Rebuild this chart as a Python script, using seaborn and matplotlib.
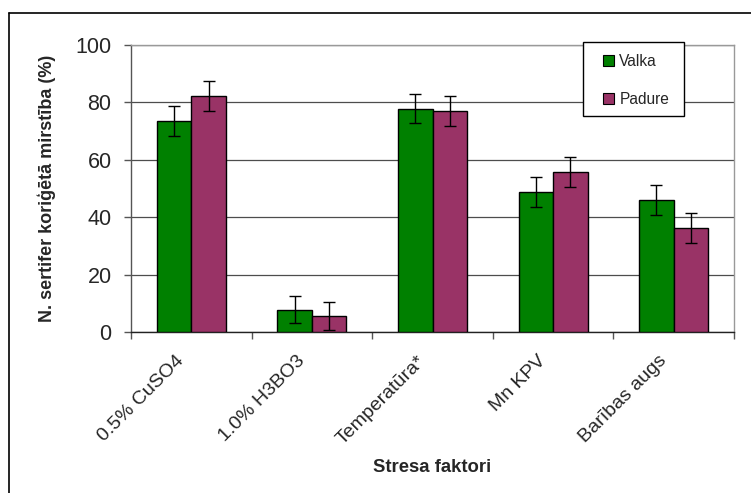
import matplotlib
matplotlib.use("Agg")
import matplotlib.pyplot as plt
import matplotlib.transforms as mtransforms
import seaborn as sns
import pandas as pd
import numpy as np
from matplotlib.lines import Line2D
from matplotlib.patches import Rectangle
from matplotlib.ticker import FixedLocator

categories = ["0.5% CuSO4", "1.0% H3BO3", "Temperatūra*", "Mn KPV", "Barības augs"]
series_names = ["Valka", "Padure"]
valka = [73.5, 7.8, 77.8, 48.9, 45.9]
padure = [82.3, 5.6, 76.9, 55.8, 36.1]
valka_err = [5.1, 4.7, 5.0, 5.2, 5.2]
padure_err = [5.2, 4.8, 5.2, 5.2, 5.2]
yticks = [0, 20, 40, 60, 80, 100]

df = pd.DataFrame({
    "cat": categories * 2,
    "series": [series_names[0]] * len(categories) + [series_names[1]] * len(categories),
    "val": valka + padure,
    "err": valka_err + padure_err,
})

sns.set_style("white")
plt.rcParams['font.family'] = ['Liberation Sans', 'DejaVu Sans']

W, H = 751, 493
fig = plt.figure(figsize=(W/100, H/100), dpi=100)
ax = fig.add_axes([131/W, 1-332/H, (734-131)/W, (332-45)/H])

palette = {"Valka": "#008000", "Padure": "#993366"}
sns.barplot(data=df, x="cat", y="val", hue="series", order=categories,
            hue_order=series_names, palette=palette, errorbar=None,
            width=0.572, edgecolor="black", linewidth=1.0, saturation=1,
            ax=ax, zorder=3, legend=False)

bar_containers = list(ax.containers)
handles = [cont.patches[0] for cont in bar_containers]

# error bars positioned from the drawn bar patches
for cont, name in zip(bar_containers, series_names):
    sub = df[df.series == name].set_index("cat").loc[categories]
    xs = [p.get_x() + p.get_width()/2 for p in cont.patches]
    ax.errorbar(xs, sub["val"].values, yerr=sub["err"].values, fmt="none",
                ecolor="black", elinewidth=1.0, capsize=4, capthick=1.0, zorder=4)

ax.set_ylim(0, 100)
ax.set_xlim(-0.5, len(categories) - 0.5)
ax.set_yticks(yticks)
ax.yaxis.grid(True, color="#4d4d4d", linewidth=0.9, zorder=0)
ax.set_axisbelow(True)

for s in ["top", "right"]:
    ax.spines[s].set_color("#999999")
    ax.spines[s].set_linewidth(1.0)
ax.spines["left"].set_color("#555555")
ax.spines["bottom"].set_color("#222222")
for s in ["left", "bottom"]:
    ax.spines[s].set_linewidth(1.0)

ax.tick_params(axis="y", which="major", direction="out", length=5, width=1,
               color="#555555", labelsize=15.5, pad=9, left=True)
ax.tick_params(axis="x", which="major", length=0, labelsize=14, pad=19)
ax.xaxis.set_minor_locator(FixedLocator(np.arange(-0.5, len(categories), 1.0)))
ax.tick_params(axis="x", which="minor", direction="out", length=5, width=1,
               color="#555555", bottom=True)

ax.set_xticks(range(len(categories)))
ax.set_xticklabels(categories, rotation=45, ha="right", va="center",
                   rotation_mode="anchor")
shift = mtransforms.ScaledTranslation(-10/100, 0, fig.dpi_scale_trans)
for lbl in ax.get_xticklabels():
    lbl.set_transform(lbl.get_transform() + shift)

ax.set_xlabel("Stresa faktori", fontsize=13.3, fontweight="bold")
ax.set_ylabel("N. sertifer koriģētā mirstība (%)", fontsize=13, fontweight="bold")
ax.xaxis.set_label_coords(0.5, (332-467)/287)
ax.xaxis.label.set_va("center")
ax.yaxis.set_label_coords((47-131)/603, 0.5)
ax.yaxis.label.set_va("center")

# legend (handles from the bar containers), with a square frame box
leg = fig.legend(handles, series_names, loc="upper left",
                 bbox_to_anchor=(603/W, 1-54/H), bbox_transform=fig.transFigure,
                 fontsize=11.2, frameon=False, handlelength=0.7, handleheight=0.7,
                 handletextpad=0.35, labelspacing=1.45, borderpad=0,
                 borderaxespad=0)
for h in leg.legend_handles:
    h.set_edgecolor("black")
    h.set_linewidth(0.8)
fig.add_artist(Rectangle((583/W, 1-116/H), (684-583)/W, (116-42)/H,
                         transform=fig.transFigure, facecolor="white",
                         edgecolor="black", linewidth=1.0, zorder=5))
leg.set_zorder(6)

# outer chart frame
fig.add_artist(Line2D([9/W, 9/W], [0, 1-13/H], transform=fig.transFigure,
                      color="black", linewidth=1.2))
fig.add_artist(Line2D([9/W, 1], [1-13/H, 1-13/H], transform=fig.transFigure,
                      color="black", linewidth=1.2))

fig.savefig("out.png", dpi=100)
